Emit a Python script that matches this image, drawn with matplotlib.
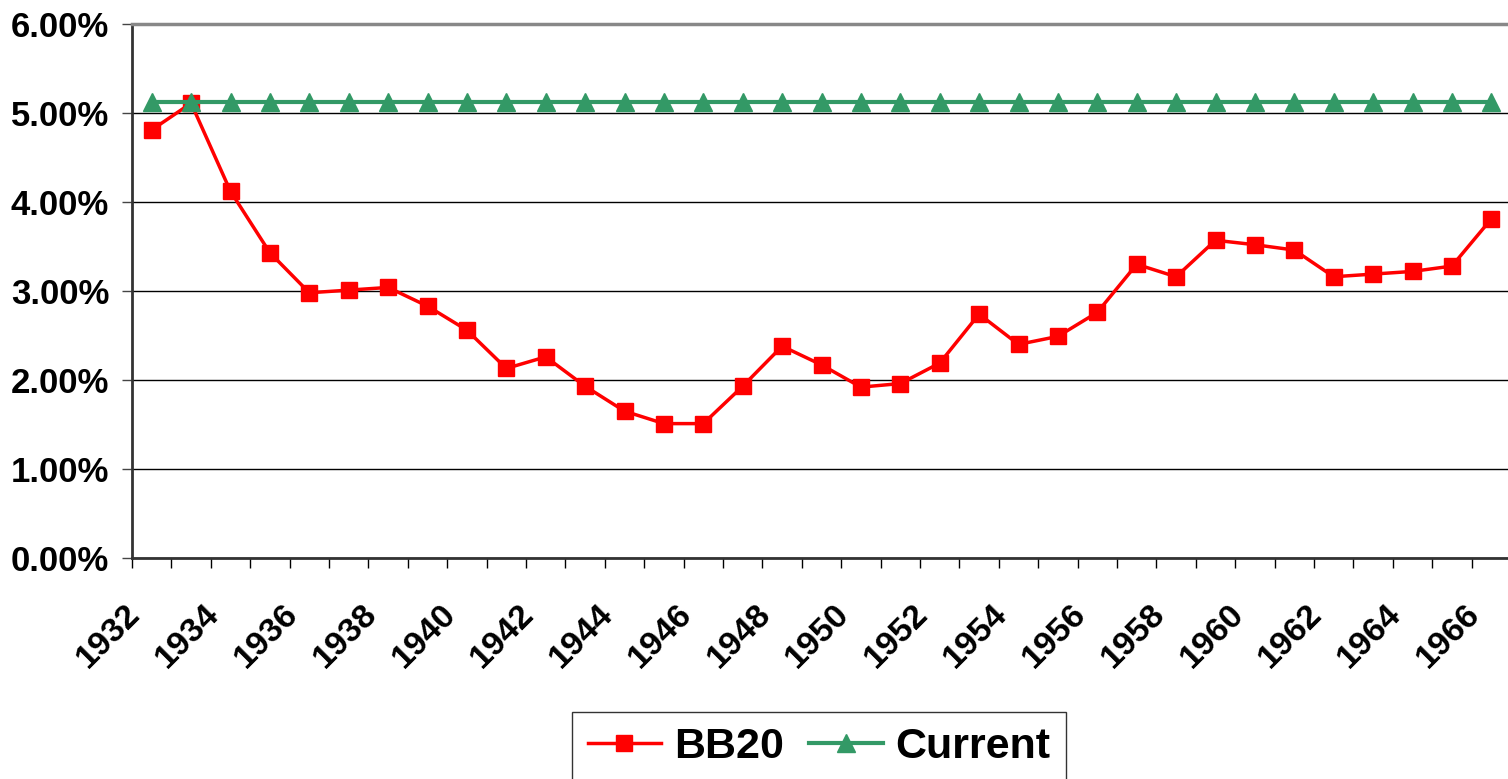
import matplotlib
matplotlib.use("Agg")
import matplotlib.pyplot as plt
from matplotlib.ticker import FixedLocator, FuncFormatter
from matplotlib.transforms import ScaledTranslation
from matplotlib.lines import Line2D

years = list(range(1932, 1967))
bb20 = [4.81, 5.11, 4.12, 3.43, 2.98, 3.01, 3.04, 2.83, 2.56, 2.13,
        2.26, 1.93, 1.65, 1.51, 1.51, 1.93, 2.38, 2.17, 1.92, 1.96,
        2.19, 2.74, 2.40, 2.49, 2.76, 3.30, 3.16, 3.57, 3.52, 3.46,
        3.16, 3.19, 3.22, 3.28, 3.81]
current = [5.12] * len(years)
yticks = [0, 1, 2, 3, 4, 5, 6]

plt.rcParams['font.family'] = ['Liberation Sans', 'DejaVu Sans']
plt.rcParams['font.weight'] = 'bold'

fig = plt.figure(figsize=(15.08, 7.79), dpi=100)
ax = fig.add_axes([132/1508, 1 - 558/779, 1 - 132/1508 + 0.002, (558 - 24)/779])

x = list(range(len(years)))
ax.plot(x, bb20, color='#FF0000', lw=2.5, marker='s', ms=12,
        mec='#FF0000', mfc='#FF0000', zorder=3, clip_on=False)
ax.plot(x, current, color='#339966', lw=3, marker='^', ms=13,
        mec='#339966', mfc='#339966', zorder=4, clip_on=False)

ax.set_xlim(-0.5, len(years) - 0.5)
ax.set_ylim(0, 6)
ax.set_yticks(yticks)
ax.yaxis.set_major_formatter(FuncFormatter(lambda v, p: f"{v:.2f}%"))
ax.grid(axis='y', color='black', lw=1)
ax.set_axisbelow(True)

ax.set_xticks(x[::2])
ax.set_xticklabels([str(y) for y in years[::2]], rotation=45,
                   ha='right', va='center', rotation_mode='anchor')
ax.xaxis.set_minor_locator(FixedLocator([i - 0.5 for i in range(len(years) + 1)]))
ax.tick_params(axis='x', which='major', length=0, pad=37, labelsize=24.5)
ax.tick_params(axis='x', which='minor', length=7.5, width=1, direction='out', color='black')
ax.tick_params(axis='y', which='major', length=7.5, width=1, direction='out', pad=9,
               labelsize=25, color='#444444')
for lab in ax.get_xticklabels():
    lab.set_transform(lab.get_transform() + ScaledTranslation(-0.16, 0, fig.dpi_scale_trans))

for s in ['left', 'bottom']:
    ax.spines[s].set_color('#333333')
    ax.spines[s].set_linewidth(2)
ax.spines['top'].set_color('#888888')
ax.spines['top'].set_linewidth(2.5)
ax.spines['right'].set_visible(False)

handles = [Line2D([], [], color='#FF0000', lw=2.5, marker='s', ms=12),
           Line2D([], [], color='#339966', lw=3, marker='^', ms=13)]
leg = fig.legend(handles, ['BB20', 'Current'], loc='upper center',
                 bbox_to_anchor=(819/1508, 1 - 712/779), ncol=2,
                 prop={'family': 'Liberation Sans', 'weight': 'bold', 'size': 31},
                 frameon=True, fancybox=False, handlelength=1.7,
                 handletextpad=0.3, columnspacing=0.6, borderpad=0.35,
                 borderaxespad=0)
leg.get_frame().set_edgecolor('black')
leg.get_frame().set_linewidth(1)

fig.savefig('out.png', dpi=100)
